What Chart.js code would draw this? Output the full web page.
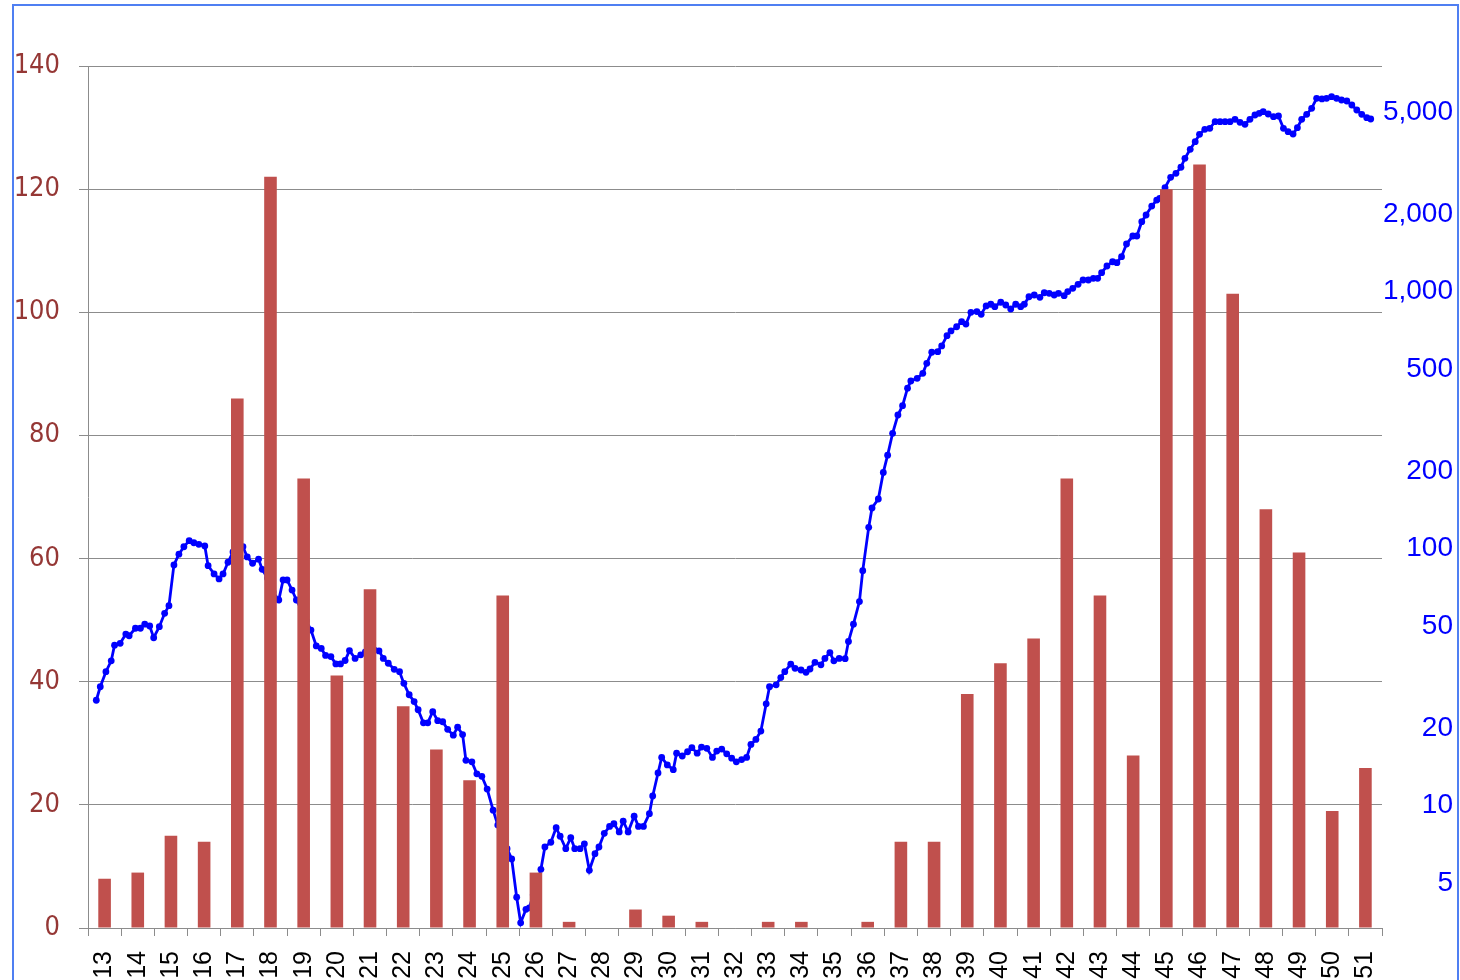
<!DOCTYPE html>
<html>
<head>
<meta charset="utf-8">
<script src="https://cdn.jsdelivr.net/npm/chart.js@4.4.1/dist/chart.umd.min.js"></script>
<style>
  html, body { margin: 0; padding: 0; background: #fff; }
  #wrap { position: relative; width: 1460px; height: 980px; overflow: hidden; }
  #wrap canvas { position: absolute; left: 0; top: 0; }
  #frame { position: absolute; left: 12px; top: 4px; width: 1443px; height: 1000px; border: 2px solid #4f7ff2; pointer-events: none; }
</style>
</head>
<body>
<div id="wrap">
  <canvas id="chart" width="1460" height="980"></canvas>
  <div id="frame"></div>
</div>
<script>
// bar categories (years) and yearly counts, left axis
const years = ['13','14','15','16','17','18','19','20','21','22','23','24','25','26','27','28','29','30','31','32',
  '33','34','35','36','37','38','39','40','41','42','43','44','45','46','47','48','49','50','51'];
const counts = [8, 9, 15, 14, 86, 122, 73, 41, 55, 36, 29, 24, 54, 9, 1, 0, 3, 2, 1, 0,
  1, 1, 0, 1, 14, 14, 38, 43, 47, 73, 54, 28, 120, 124, 103, 68, 61, 19, 26];

// index line, right (log) axis; x in years (category "13" spans 13..14)
const lineYears = [
  13.25,13.37,13.54,13.70,13.80,13.97,14.14,14.24,14.43,14.58,
  14.71,14.86,14.98,15.15,15.31,15.44,15.59,15.74,15.89,16.05,
  16.19,16.34,16.52,16.62,16.80,16.95,17.07,17.22,17.37,17.52,
  17.67,17.80,17.96,18.14,18.25,18.41,18.58,18.75,18.88,19.00,
  19.15,19.28,19.44,19.58,19.72,19.88,20.03,20.16,20.32,20.47,
  20.61,20.75,20.88,21.05,21.22,21.36,21.50,21.63,21.77,21.90,
  22.05,22.23,22.39,22.52,22.68,22.83,22.95,23.11,23.24,23.39,
  23.54,23.69,23.84,24.01,24.14,24.29,24.39,24.57,24.72,24.87,
  25.03,25.21,25.35,25.49,25.63,25.77,25.92,26.04,26.20,26.30,
  26.42,26.54,26.65,26.77,26.95,27.11,27.23,27.40,27.55,27.67,
  27.83,27.96,28.11,28.28,28.40,28.56,28.72,28.85,29.01,29.13,
  29.28,29.46,29.59,29.74,29.92,30.02,30.18,30.29,30.46,30.64,
  30.74,30.91,31.07,31.20,31.36,31.49,31.65,31.82,31.95,32.10,
  32.25,32.40,32.54,32.70,32.85,32.98,33.13,33.28,33.44,33.54,
  33.74,33.88,34.00,34.18,34.31,34.49,34.64,34.76,34.91,35.09,
  35.21,35.36,35.48,35.64,35.82,35.92,36.07,36.25,36.35,36.53,
  36.63,36.82,36.97,37.10,37.25,37.41,37.55,37.70,37.80,37.99,
  38.16,38.28,38.43,38.61,38.73,38.89,39.01,39.18,39.33,39.46,
  39.61,39.79,39.92,40.07,40.21,40.33,40.51,40.66,40.81,40.96,
  41.11,41.22,41.36,41.52,41.69,41.82,41.97,42.12,42.25,42.42,
  42.53,42.68,42.84,42.99,43.15,43.30,43.43,43.55,43.71,43.88,
  44.01,44.15,44.30,44.49,44.61,44.76,44.89,45.06,45.21,45.30,
  45.46,45.63,45.79,45.94,46.06,46.22,46.37,46.50,46.66,46.81,
  46.97,47.12,47.27,47.42,47.57,47.72,47.87,48.02,48.17,48.30,
  48.42,48.57,48.73,48.88,49.03,49.17,49.32,49.45,49.58,49.73,
  49.88,50.03,50.19,50.33,50.48,50.63,50.78,50.94,51.09,51.24,
  51.39,51.54,51.66];
const lineValues = [
  25.7,29.0,33.2,36.6,42.1,42.8,46.5,45.8,49.0,49.0,
  50.8,50.0,45.0,49.7,56.0,60.0,86.4,95.1,101.7,107.4,
  105.4,103.9,102.4,85.8,79.7,76.2,79.7,88.5,97.0,102.4,
  101.7,92.8,87.7,91.0,83.1,76.9,67.8,63.1,75.5,75.5,
  69.0,63.1,57.7,52.3,48.2,41.8,40.9,38.4,38.0,35.6,
  35.6,36.7,40.1,37.4,38.6,39.6,40.7,40.3,40.0,37.4,
  35.8,33.9,33.2,29.9,27.0,25.4,23.6,21.0,21.0,23.2,
  21.4,21.2,19.8,18.8,20.2,18.9,15.0,14.8,13.3,13.0,
  11.6,9.6,8.4,7.5,6.8,6.2,4.4,3.5,3.95,4.0,
  4.5,5.0,5.65,6.9,7.2,8.2,7.6,6.8,7.5,6.8,
  6.8,7.1,5.6,6.5,6.9,7.8,8.3,8.5,7.9,8.7,
  7.9,9.1,8.3,8.3,9.3,10.9,13.4,15.4,14.4,13.8,
  16.0,15.6,16.2,16.8,16.0,16.9,16.7,15.4,16.3,16.6,
  15.9,15.3,14.8,15.1,15.4,17.3,18.1,19.5,24.9,29.0,
  29.5,31.5,33.2,35.5,34.2,33.7,33.0,34.0,36.1,35.3,
  37.4,39.4,36.6,37.4,37.3,43.5,50.8,62.2,82.1,121,
  144,156,198,231,281,331,360,421,449,460,
  481,526,581,584,615,674,703,730,764,748,
  831,836,816,880,893,874,909,887,856,893,
  874,893,955,970,950,990,985,970,985,964,
  1000,1030,1068,1110,1110,1127,1127,1185,1258,1307,
  1296,1368,1532,1646,1646,1871,1987,2153,2272,2307,
  2538,2785,2887,3047,3302,3579,3831,4094,4282,4321,
  4585,4585,4585,4585,4684,4560,4479,4684,4867,4941,
  5014,4911,4794,4824,4321,4191,4106,4344,4684,4898,
  5169,5654,5619,5654,5736,5654,5567,5518,5323,5090,
  4898,4750,4696];

const leftTickStep = 20;
const rightTicks = [5, 10, 20, 50, 100, 200, 500, 1000, 2000, 5000];

const gridColor = '#8c8c8c';

const linePoints = lineYears.map((x, i) => ({ x: x, y: lineValues[i] }));

const ctx = document.getElementById('chart').getContext('2d');

new Chart(ctx, {
  data: {
    labels: years,
    datasets: [
      {
        type: 'bar',
        data: counts,
        backgroundColor: '#c0504d',
        borderWidth: 0,
        grouped: false,
        barPercentage: 0.38,
        categoryPercentage: 1,
        xAxisID: 'x',
        yAxisID: 'y',
        order: 0
      },
      {
        type: 'line',
        data: linePoints,
        borderColor: '#0000ff',
        backgroundColor: '#0000ff',
        borderWidth: 2.8,
        pointRadius: 3.4,
        pointBorderWidth: 0,
        tension: 0,
        xAxisID: 'xl',
        yAxisID: 'yr',
        order: 1
      }
    ]
  },
  options: {
    responsive: false,
    animation: false,
    devicePixelRatio: 1,
    // right padding puts the right-aligned log labels at x = 1453
    layout: { padding: { top: 66, left: 0, right: 7, bottom: 0 } },
    plugins: {
      legend: { display: false },
      tooltip: { enabled: false }
    },
    scales: {
      x: {
        type: 'category',
        offset: true,
        grid: { offset: true, drawOnChartArea: false, drawTicks: true, tickLength: 8, color: gridColor },
        border: { display: true, color: gridColor },
        ticks: {
          minRotation: 90,
          maxRotation: 90,
          autoSkip: false,
          padding: 15,
          color: '#000',
          font: { family: '"Liberation Sans", Arial, sans-serif', size: 25 }
        },
        afterFit: (scale) => { scale.height = 52; }
      },
      xl: {
        type: 'linear',
        display: false,
        min: 13,
        max: 52
      },
      y: {
        position: 'left',
        min: 0,
        max: 140,
        ticks: {
          stepSize: leftTickStep,
          padding: 19,
          color: '#953735',
          font: { family: '"DejaVu Sans Condensed", "DejaVu Sans", sans-serif', size: 27 }
        },
        grid: { color: gridColor, tickLength: 9 },
        border: { color: gridColor },
        afterFit: (scale) => { scale.width = 88; }
      },
      yr: {
        type: 'logarithmic',
        position: 'right',
        min: 3.34,
        max: 7550,
        grid: { display: false, drawOnChartArea: false, drawTicks: false },
        border: { display: false },
        afterBuildTicks: (scale) => { scale.ticks = rightTicks.map(v => ({ value: v })); },
        ticks: {
          crossAlign: 'far',
          padding: 3,
          color: '#0000ff',
          font: { family: '"Liberation Sans", Arial, sans-serif', size: 28 },
          callback: (v) => Number(v).toLocaleString('en-US')
        },
        afterFit: (scale) => { scale.width = 71; }
      }
    }
  }
});
</script>
</body>
</html>
